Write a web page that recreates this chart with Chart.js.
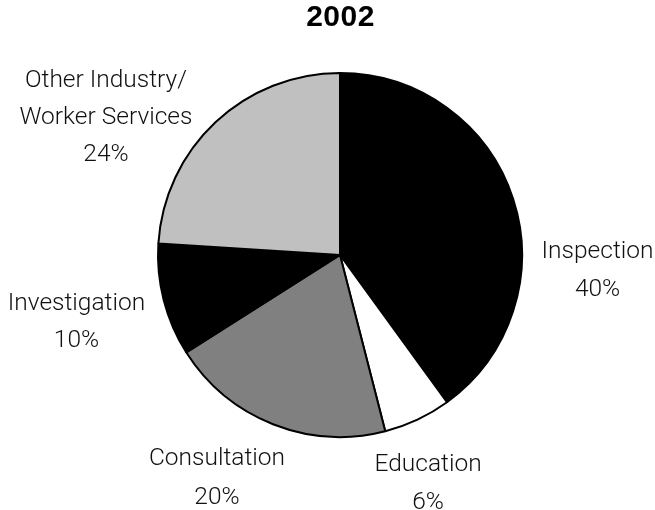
<!DOCTYPE html>
<html>
<head>
<meta charset="utf-8">
<script src="https://cdn.jsdelivr.net/npm/chart.js@4/dist/chart.umd.min.js"></script>
<style>
html,body{margin:0;padding:0;background:#fff;}
#wrap{width:655px;height:510px;position:relative;}
</style>
</head>
<body>
<div id="wrap"><canvas id="c" width="655" height="510"></canvas></div>
<script>
const title = '2002';
const categories = ['Inspection', 'Education', 'Consultation', 'Investigation', 'Other Industry/\nWorker Services'];
const values = [40, 6, 20, 10, 24];
const colors = ['#000000', '#ffffff', '#808080', '#000000', '#c0c0c0'];
// label block centre offsets relative to pie centre, in units of the pie radius
const labelOffsets = [[1.415, 0.073], [0.484, 1.242], [-0.676, 1.212], [-1.448, 0.357], [-1.286, -0.767]];
const lineHeights = [38.5, 38, 39, 37, 37];

const labelPlugin = {
  id: 'outLabels',
  afterDraw(chart) {
    const ctx = chart.ctx;
    const meta = chart.getDatasetMeta(0);
    const arc0 = meta.data[0];
    const cx = arc0.x, cy = arc0.y, r = arc0.outerRadius;
    ctx.save();
    ctx.fillStyle = '#111';
    ctx.font = '300 24.5px Roboto, "Liberation Sans", sans-serif';
    ctx.textAlign = 'center';
    ctx.textBaseline = 'alphabetic';
    const capHalf = 0.711 * 24.5 / 2;
    categories.forEach((cat, i) => {
      const lines = cat.split('\n').concat([values[i] + '%']);
      const lh = lineHeights[i];
      const x = cx + labelOffsets[i][0] * r;
      const y = cy + labelOffsets[i][1] * r;
      const y0 = y - (lines.length - 1) * lh / 2;
      lines.forEach((t, j) => ctx.fillText(t, x, y0 + j * lh + capHalf));
    });
    ctx.font = 'bold 30px "Liberation Sans", Arial, sans-serif';
    ctx.fillStyle = '#000';
    if ('letterSpacing' in ctx) ctx.letterSpacing = '0.5px';
    ctx.fillText(title, cx + 0.5, 25.5);
    ctx.restore();
  }
};

new Chart(document.getElementById('c'), {
  type: 'pie',
  data: {
    labels: categories,
    datasets: [{
      data: values,
      backgroundColor: colors,
      borderColor: '#000',
      borderWidth: 2
    }]
  },
  options: {
    responsive: false,
    animation: false,
    layout: { padding: { left: 157, right: 132, top: 72, bottom: 72 } },
    plugins: { legend: { display: false }, tooltip: { enabled: false }, title: { display: false } }
  },
  plugins: [labelPlugin]
});
</script>
</body>
</html>
